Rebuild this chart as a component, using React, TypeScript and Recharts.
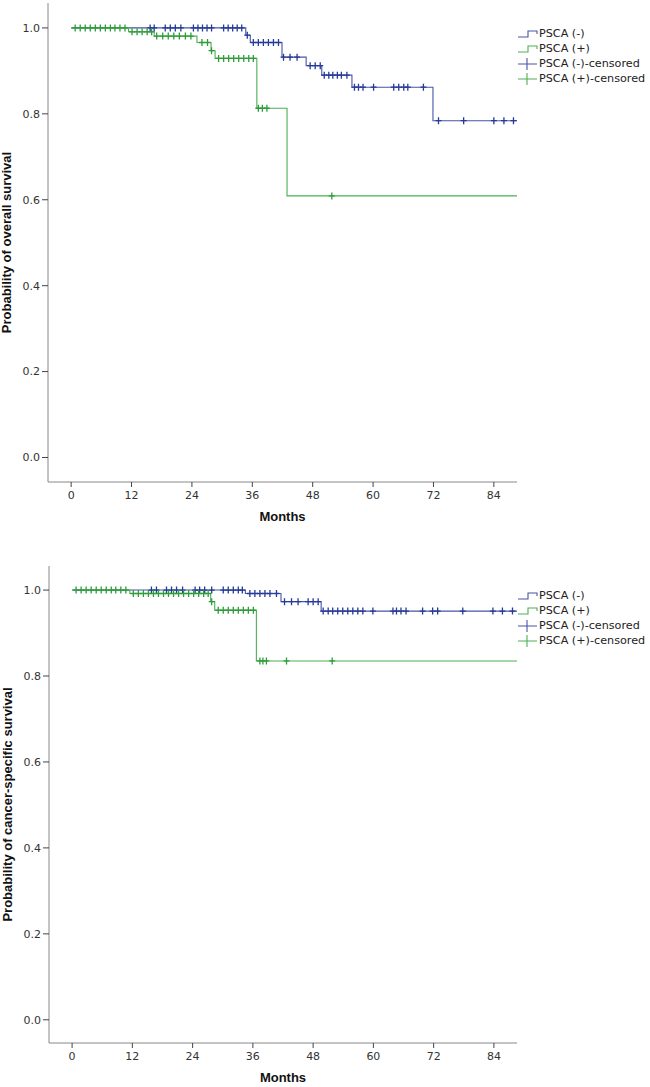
import { ComposedChart, Legend, Line, Scatter, XAxis, YAxis } from "recharts";

const monthTicks = [0, 12, 24, 36, 48, 60, 72, 84];
const probTicks = [0, 0.2, 0.4, 0.6, 0.8, 1.0];
const groupLabels = ["PSCA (-)", "PSCA (+)", "PSCA (-)-censored", "PSCA (+)-censored"];

// overall survival: step times (months) and survival after each step
const osNegTimes = [0, 34.7, 35.6, 41.9, 46.7, 49.8, 55.8, 71.9, 88.6];
const osNegSurv = [1.0, 0.983, 0.966, 0.932, 0.912, 0.89, 0.862, 0.784, 0.784];
const osNegCensored = [
  15.7, 16.5, 18.7, 19.7, 20.7, 21.8, 24.3, 25.2, 26.1, 27.0, 27.9, 30.3, 31.2,
  32.1, 33.0, 33.9, 35.0, 36.2, 37.2, 38.2, 39.2, 40.2, 41.2, 42.2, 43.5, 44.9,
  47.5, 48.5, 49.5, 50.3, 51.2, 52.0, 52.9, 53.7, 54.8, 56.3, 57.1, 58.0, 60.1,
  64.1, 65.1, 66.1, 66.9, 70.0, 73.0, 78.0, 84.0, 86.0, 87.9,
];
const osPosTimes = [0, 11.4, 16.5, 25.0, 27.8, 28.6, 36.9, 42.9, 88.6];
const osPosSurv = [1.0, 0.991, 0.981, 0.966, 0.947, 0.929, 0.813, 0.609, 0.609];
const osPosCensored = [
  0.8, 1.8, 2.8, 3.8, 4.8, 5.8, 6.8, 7.8, 8.7, 9.7, 10.7, 12.1, 13.1, 14.1, 15.1,
  16.0, 17.0, 18.2, 19.3, 20.4, 21.5, 22.7, 23.8, 26.0, 27.1, 27.9, 29.3, 30.3,
  31.3, 32.3, 33.3, 34.3, 35.3, 36.2, 37.2, 38.0, 38.9, 51.8,
];

// cancer-specific survival
const cssNegTimes = [0, 34.5, 41.6, 49.6, 88.6];
const cssNegSurv = [1.0, 0.992, 0.973, 0.951, 0.951];
const cssNegCensored = [
  15.8, 16.8, 18.8, 19.8, 20.8, 22.0, 24.5, 25.4, 26.4, 27.8, 30.1, 31.1, 32.1,
  33.1, 33.9, 35.4, 36.4, 37.4, 38.4, 39.4, 40.7, 42.3, 43.7, 45.0, 47.0, 48.0,
  49.0, 50.0, 51.0, 51.9, 52.9, 53.9, 54.9, 55.9, 56.9, 57.9, 59.9, 63.9, 64.6,
  65.5, 66.5, 69.8, 71.8, 72.8, 77.8, 83.8, 85.7, 87.7,
];
const cssPosTimes = [0, 11.5, 27.6, 28.4, 36.7, 88.6];
const cssPosSurv = [1.0, 0.992, 0.973, 0.953, 0.835, 0.835];
const cssPosCensored = [
  0.8, 1.8, 2.8, 3.8, 4.8, 5.8, 6.8, 7.8, 8.7, 9.7, 10.7, 12.2, 13.2, 14.2, 15.2,
  16.2, 17.2, 18.2, 19.2, 20.2, 21.2, 22.2, 23.2, 24.2, 25.2, 26.2, 27.1, 27.8,
  29.1, 30.1, 31.1, 32.1, 33.1, 34.1, 35.1, 36.1, 37.4, 38.0, 38.7, 42.7, 51.8,
];

const NEG_LINE = "#4656a8";
const POS_LINE = "#4cb052";
const NEG_MARK = "#263a96";
const POS_MARK = "#2f9c3a";
const TICK_FONT = "DejaVu Sans";
const TITLE_FONT = "Liberation Sans, Arial, sans-serif";

type Pt = { t: number; s: number };

const toSteps = (times: number[], surv: number[]): Pt[] =>
  times.map((t, i) => ({ t, s: surv[i] }));

// place each censor mark on the curve at its time
const toCensors = (cens: number[], times: number[], surv: number[]): Pt[] =>
  cens.map((t) => {
    let s = surv[0];
    times.forEach((tt, i) => {
      if (tt <= t) s = surv[i];
    });
    return { t, s };
  });

const crossShape = (color: string) => (props: any) => {
  const { cx, cy } = props;
  if (cx == null || cy == null) return <g />;
  return (
    <path
      d={`M${cx - 3},${cy}H${cx + 3}M${cx},${cy - 3.5}V${cy + 3.5}`}
      stroke={color}
      strokeWidth={1.3}
      fill="none"
    />
  );
};

function KmLegend() {
  const colors = [NEG_LINE, POS_LINE, NEG_LINE, POS_LINE];
  return (
    <div style={{ fontFamily: TICK_FONT, fontSize: 11.2, color: "#222" }}>
      {groupLabels.map((label, i) => (
        <div
          key={label}
          style={{ display: "flex", alignItems: "center", height: 15 }}
        >
          <svg width={21} height={14} style={{ flex: "none" }}>
            {i < 2 ? (
              <path
                d="M0,10H10V4H19V7"
                stroke={colors[i]}
                strokeWidth={1.1}
                fill="none"
              />
            ) : (
              <path
                d="M0,7H19M9,1V13"
                stroke={colors[i]}
                strokeWidth={1.1}
                fill="none"
              />
            )}
          </svg>
          <span style={{ whiteSpace: "nowrap" }}>{label}</span>
        </div>
      ))}
    </div>
  );
}

type PlotProps = {
  title: string;
  top: number;
  height: number;
  margin: { top: number; right: number; left: number; bottom: number };
  yDomain: [number, number];
  legendTop: number;
  neg: Pt[];
  pos: Pt[];
  negCens: Pt[];
  posCens: Pt[];
};

function SurvivalPlot(p: PlotProps) {
  return (
    <div style={{ position: "absolute", left: 0, top: p.top }}>
      <ComposedChart width={650} height={p.height} margin={p.margin}>
        <XAxis
          type="number"
          dataKey="t"
          domain={[-4.6, 88.6]}
          allowDataOverflow
          ticks={monthTicks}
          height={40}
          tickSize={5}
          tickMargin={4}
          stroke="#888"
          tickLine={{ stroke: "#444" }}
          tick={{ fontSize: 11, fill: "#333", fontFamily: TICK_FONT }}
          label={{
            value: "Months",
            position: "insideBottom",
            offset: 1,
            style: {
              fontFamily: TITLE_FONT,
              fontWeight: "bold",
              fontSize: 13,
              fill: "#111",
            },
          }}
        />
        <YAxis
          type="number"
          dataKey="s"
          domain={p.yDomain}
          allowDataOverflow
          ticks={probTicks}
          width={40}
          tickSize={6}
          tickMargin={2}
          stroke="#888"
          tickLine={{ stroke: "#444" }}
          tickFormatter={(v: number) => v.toFixed(1)}
          tick={{ fontSize: 11, fill: "#333", fontFamily: TICK_FONT }}
          label={{
            value: p.title,
            angle: -90,
            position: "insideLeft",
            textAnchor: "middle",
            offset: -2,
            style: {
              fontFamily: TITLE_FONT,
              fontWeight: "bold",
              fontSize: 13,
              fill: "#111",
            },
          }}
        />
        <Legend
          layout="vertical"
          align="center"
          verticalAlign="middle"
          content={<KmLegend />}
          wrapperStyle={{ top: p.legendTop, left: 518, width: 132 }}
        />
        <Line
          data={p.neg}
          dataKey="s"
          type="stepAfter"
          stroke={NEG_LINE}
          strokeWidth={1.1}
          dot={false}
          activeDot={false}
          isAnimationActive={false}
        />
        <Line
          data={p.pos}
          dataKey="s"
          type="stepAfter"
          stroke={POS_LINE}
          strokeWidth={1.1}
          dot={false}
          activeDot={false}
          isAnimationActive={false}
        />
        <Scatter
          data={p.negCens}
          dataKey="s"
          shape={crossShape(NEG_MARK)}
          isAnimationActive={false}
        />
        <Scatter
          data={p.posCens}
          dataKey="s"
          shape={crossShape(POS_MARK)}
          isAnimationActive={false}
        />
      </ComposedChart>
    </div>
  );
}

export default function App() {
  return (
    <div
      style={{
        position: "absolute",
        left: 0,
        top: 0,
        width: 650,
        height: 1087,
        background: "#fff",
        overflow: "hidden",
      }}
    >
      <SurvivalPlot
        title="Probability of overall survival"
        top={0}
        height={530}
        margin={{ top: 3, right: 133, left: 8, bottom: 8 }}
        yDomain={[-0.057, 1.058]}
        legendTop={26}
        neg={toSteps(osNegTimes, osNegSurv)}
        pos={toSteps(osPosTimes, osPosSurv)}
        negCens={toCensors(osNegCensored, osNegTimes, osNegSurv)}
        posCens={toCensors(osPosCensored, osPosTimes, osPosSurv)}
      />
      <SurvivalPlot
        title="Probability of cancer-specific survival"
        top={540}
        height={547}
        margin={{ top: 26, right: 133, left: 9, bottom: 4 }}
        yDomain={[-0.054, 1.056]}
        legendTop={48}
        neg={toSteps(cssNegTimes, cssNegSurv)}
        pos={toSteps(cssPosTimes, cssPosSurv)}
        negCens={toCensors(cssNegCensored, cssNegTimes, cssNegSurv)}
        posCens={toCensors(cssPosCensored, cssPosTimes, cssPosSurv)}
      />
    </div>
  );
}
